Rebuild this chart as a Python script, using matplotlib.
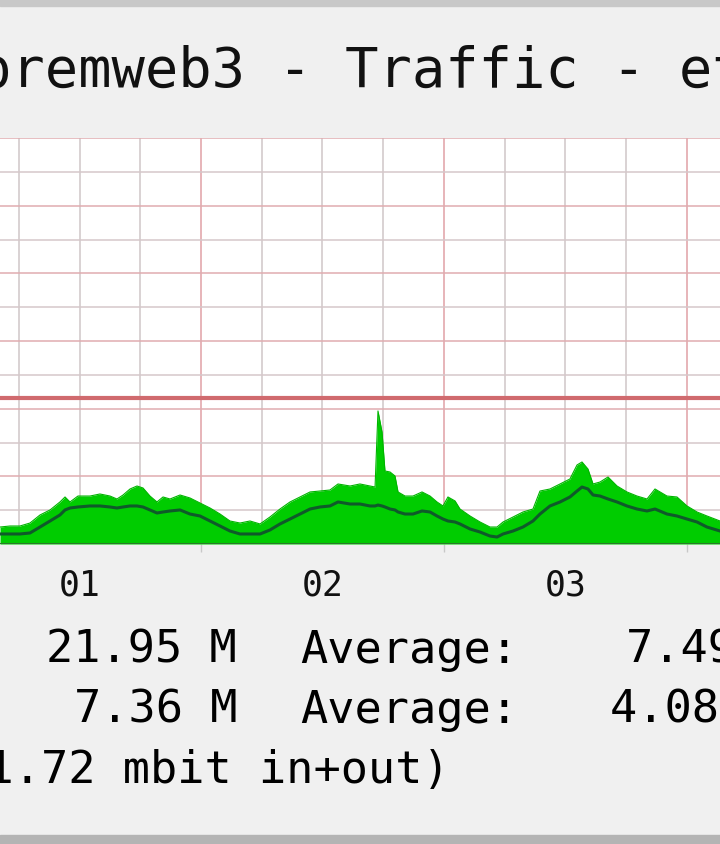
import matplotlib
matplotlib.use("Agg")
import matplotlib.pyplot as plt
from matplotlib.patches import Rectangle
import numpy as np

plt.rcParams['font.family'] = ['DejaVu Sans Mono', 'DejaVu Sans']

# time in hours from midnight of day 01
hours = [4.15, 5.14, 6.12, 7.11, 8.10, 9.09, 10.07, 10.57, 11.06, 11.85,
         13.04, 14.02, 15.01, 15.70, 16.30, 16.99, 17.68, 18.27, 18.96, 19.65,
         20.25, 20.94, 21.93, 22.91, 23.90, 24.89, 25.88, 26.86, 27.85, 28.84,
         29.83, 30.81, 31.80, 32.79, 33.78, 34.77, 35.75, 36.74, 37.53, 38.72,
         39.70, 40.69, 41.19, 41.48, 41.88, 42.17, 42.67, 43.16, 43.46, 44.15,
         44.94, 45.83, 46.62, 47.31, 47.90, 48.39, 49.09, 49.58, 50.57, 51.56,
         52.54, 53.24, 53.83, 54.82, 55.80, 56.79, 57.48, 58.47, 59.46, 60.44,
         61.14, 61.63, 62.22, 62.72, 63.41, 64.20, 65.09, 66.07, 67.06, 68.05,
         68.84, 70.02, 71.01, 72.00, 72.99, 73.97, 75.26]

# inbound (area), Mbit
inbound = [2.51, 2.66, 2.66, 3.10, 4.29, 5.03, 6.21, 6.95, 6.21, 7.09,
           7.09, 7.39, 7.09, 6.65, 7.24, 8.13, 8.57, 8.28, 7.09, 6.21,
           6.95, 6.65, 7.24, 6.80, 6.06, 5.32, 4.43, 3.40, 3.10, 3.40,
           2.96, 3.99, 5.17, 6.21, 6.95, 7.69, 7.83, 7.98, 8.87, 8.57,
           8.87, 8.57, 8.42, 19.66, 16.55, 10.79, 10.64, 10.05, 7.69, 7.09,
           7.09, 7.69, 7.09, 6.21, 5.62, 6.95, 6.36, 5.17, 4.14, 3.25,
           2.51, 2.51, 3.25, 3.99, 4.73, 5.17, 7.83, 8.13, 8.87, 9.61,
           11.68, 12.12, 11.08, 8.87, 9.16, 9.90, 8.57, 7.69, 7.09, 6.65,
           8.13, 7.09, 6.95, 5.62, 4.73, 4.14, 3.40]

# outbound (line), Mbit
outbound = [1.48, 1.48, 1.48, 1.63, 2.51, 3.40, 4.29, 5.03, 5.32, 5.47,
            5.62, 5.62, 5.47, 5.32, 5.47, 5.62, 5.62, 5.47, 5.03, 4.58,
            4.73, 4.88, 5.03, 4.43, 4.14, 3.40, 2.66, 1.92, 1.48, 1.48,
            1.48, 2.07, 2.96, 3.69, 4.43, 5.17, 5.47, 5.62, 6.21, 5.91,
            5.91, 5.62, 5.62, 5.76, 5.62, 5.47, 5.17, 5.03, 4.73, 4.43,
            4.43, 4.88, 4.73, 4.14, 3.69, 3.40, 3.25, 2.96, 2.22, 1.77,
            1.18, 1.03, 1.48, 1.92, 2.51, 3.40, 4.43, 5.62, 6.21, 6.95,
            7.83, 8.42, 8.13, 7.24, 7.09, 6.65, 6.21, 5.62, 5.17, 4.88,
            5.17, 4.43, 4.14, 3.69, 3.25, 2.51, 1.92]

hrule = 21.6
day_labels = ['01', '02', '03']
day_label_pos = [12, 36, 60]

title = 'premweb3 - Traffic - eth0'
row1 = ['21.95 M', 'Average:', '7.49 M']
row2 = ['7.36 M', 'Average:', '4.08 M']
row3 = '(21.72 mbit in+out)'

W, H = 720, 845
fig = plt.figure(figsize=(W / 100, H / 100), dpi=100)
fig.patch.set_facecolor('#f0f0f0')

# top / bottom frame bands
fig.patches.append(Rectangle((0, 1 - 7 / H), 1, 7 / H, transform=fig.transFigure,
                             color='#c8c8c8', zorder=0))
fig.patches.append(Rectangle((0, 0), 1, 9 / H, transform=fig.transFigure,
                             color='#b4b4b4', zorder=0))

ax = fig.add_axes([0, (H - 545) / H, 1, (545 - 139) / H])
ax.set_facecolor('white')
ax.set_xlim(4.148, 75.26)
ax.set_ylim(0, 60)
for s in ax.spines.values():
    s.set_visible(False)

# grid
for gx in np.arange(6, 76, 6):
    major = gx % 24 == 0
    ax.axvline(gx, color='#e0a0a6' if major else '#d0c6c8', lw=1.1, zorder=1)
for gy in np.arange(5, 61, 5):
    major = gy % 10 == 0
    ax.axhline(gy, color='#e0acb0' if major else '#d6c8ca', lw=1.1, zorder=1)

ax.fill_between(hours, 0, inbound, color='#00cc00', lw=0, zorder=2)
ax.plot(hours, inbound, color='#00b400', lw=0.8, zorder=2)
ax.plot(hours, outbound, color='#0f5a2a', lw=2.2, zorder=3)
ax.axhline(hrule, color='#d06a6e', lw=3, zorder=4)
ax.axhline(0, color='#2a7a2a', lw=2.2, zorder=4)

ax.set_yticks([])
ax.set_xticks(day_label_pos)
ax.set_xticklabels(day_labels, fontsize=25)
ax.tick_params(axis='x', which='major', length=0, pad=17, colors='#111111')
ax.set_xticks([24, 48, 72], minor=True)
ax.tick_params(axis='x', which='minor', length=6, width=1, color='#c8c8c8')

# title and legend text (pixel positions)
def px(x, y):
    return x / W, 1 - y / H

fig.text(*px(-22, 87), title, fontsize=40, va='baseline', ha='left', color='#111111')

fs = 32.6
fig.text(*px(237, 663), row1[0], fontsize=fs, va='baseline', ha='right')
fig.text(*px(300, 663), row1[1], fontsize=fs, va='baseline', ha='left')
fig.text(*px(626, 663), row1[2], fontsize=fs, va='baseline', ha='left')
fig.text(*px(237, 723), row2[0], fontsize=fs, va='baseline', ha='right')
fig.text(*px(300, 723), row2[1], fontsize=fs, va='baseline', ha='left')
fig.text(*px(610, 723), row2[2], fontsize=fs, va='baseline', ha='left')
fig.text(*px(450, 783), row3, fontsize=fs, va='baseline', ha='right')

fig.savefig('out.png', dpi=100, facecolor=fig.get_facecolor())
